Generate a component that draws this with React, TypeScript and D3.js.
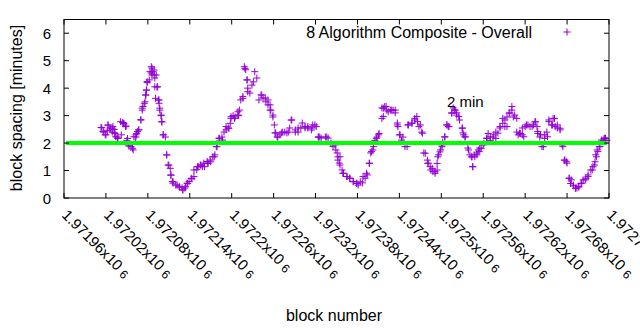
import React from 'react';
import * as d3 from 'd3';

// ---- data ----
const FIRST_BLOCK = 1971960;
const X_TICKS = [1971960, 1972020, 1972080, 1972140, 1972200, 1972260, 1972320, 1972380, 1972440, 1972500, 1972560, 1972620, 1972680, 1972740];
const X_TICK_LABELS = ['1.97196', '1.97202', '1.97208', '1.97214', '1.9722', '1.97226', '1.97232', '1.97238', '1.97244', '1.9725', '1.97256', '1.97262', '1.97268', '1.97274'];
const Y_TICKS = [0, 1, 2, 3, 4, 5, 6];
const TARGET_SPACING = 2;
const SERIES_NAME = '8 Algorithm Composite - Overall';
const TARGET_LABEL = '2 min';

// block number offsets from FIRST_BLOCK
const blockOffsets = [
  54, 57, 59, 62, 63, 66, 69, 70, 72, 73, 76, 77, 82, 84, 86, 89, 90, 92, 96, 99, 102, 103, 104, 107, 110, 112, 113, 116, 117, 118, 119, 122, 125, 126, 127, 129, 130, 133, 135, 136, 137, 139, 140, 142, 145, 147, 149, 152, 153, 155, 156, 162, 165, 169, 170, 173, 176, 179, 183, 186, 190, 192, 195, 198, 200, 205, 206, 209, 213, 216, 218, 219, 222, 226, 229, 232, 235, 238, 239, 242, 245, 249, 250, 253, 256, 258, 260, 262, 263, 266, 269, 271, 273, 276, 279, 283, 285, 289, 292, 295, 299, 301, 302, 305, 309, 313, 319, 323, 326, 331, 335, 341, 345, 349, 355, 356, 361, 364, 366, 376, 385, 391, 392, 395, 398, 399, 405, 409, 414, 419, 421, 427, 431, 434, 437, 439, 442, 445, 448, 451, 455, 457, 459, 462, 467, 471, 474, 477, 478, 481, 485, 491, 492, 498, 502, 505, 508, 512, 515, 520, 521, 524, 528, 531, 534, 535, 538, 541, 542, 545, 548, 550, 555, 557, 560, 562, 565, 570, 571, 574, 578, 581, 584, 585, 587, 591, 593, 595, 600, 605, 607, 610, 614, 618, 624, 628, 631, 634, 638, 641, 643, 648, 650, 653, 656, 660, 664, 670, 674, 677, 678, 681, 684, 688, 691, 694, 698, 700, 703, 706, 710, 714, 717, 720, 723, 726, 729, 734, 737, 741, 746, 750, 756, 759, 761, 763, 766, 770, 772, 774, 777,
  53, 56, 60, 63, 66, 69, 72, 74, 77, 81, 85, 88, 91, 93, 98, 100, 103, 105, 107, 110, 112, 115, 117, 118, 119, 123, 125, 126, 129, 130, 131,
  132, 134, 136, 137, 139, 140, 142, 147, 150, 153, 156, 160, 165, 170, 174, 177, 182, 186, 191, 196, 201, 206, 210, 215, 219, 222, 227, 232, 236, 239, 244, 249, 251, 256, 259, 262, 263,
  282, 288, 292, 295, 296, 299, 303, 306, 311, 316, 321, 325, 331, 335, 339, 345, 349, 354, 359, 364, 368, 374, 378, 382, 388, 389, 392, 394,
  395, 400, 405, 409, 414, 419, 424, 428, 433, 437, 440, 443, 447, 450, 455, 457, 461, 464, 469, 474, 477, 480, 483, 488, 493, 498, 502, 506, 510, 513, 517, 521, 525,
  527, 531, 534, 536, 539, 541, 545, 548, 551, 555, 559, 562, 566, 570, 572, 574, 579, 583, 585, 588, 591, 594, 597, 601, 605, 610, 615, 618, 621, 624, 628, 631, 634, 637, 641, 645, 648, 652, 656,
  658, 662, 667, 672, 675, 678, 682, 686, 688, 692, 694, 699, 702, 706, 710, 713, 716, 719, 723, 725, 729, 732, 736, 740, 743, 747, 750, 754, 757, 760, 762, 764, 767, 769, 773, 775,
];

// block spacing in minutes
const spacingMinutes = [
  2.56, 2.40, 2.30, 2.45, 2.65, 2.55, 2.40, 2.60, 2.50, 2.35, 2.22, 2.18, 2.30, 2.75, 2.70, 2.62, 2.10, 1.93, 1.87, 1.75, 2.05, 2.22, 2.35, 2.48, 2.85, 3.20, 3.33, 3.50, 3.75, 3.93, 4.20, 4.30, 4.55, 4.73, 4.60, 4.48, 4.37, 4.04, 3.57, 3.45, 3.20, 3.00, 2.77, 2.30, 2.22, 1.57, 1.20, 1.08, 0.83, 0.60, 0.54, 0.47, 0.40, 0.37, 0.30, 0.36, 0.54, 0.60, 0.70, 0.78, 1.03, 1.14, 1.20, 1.14, 1.27, 1.33, 1.27, 1.38, 1.50, 1.57, 1.87, 2.00, 2.18, 2.22, 2.40, 2.60, 2.55, 2.72, 2.90, 3.00, 2.95, 3.14, 3.00, 3.57, 3.70, 4.78, 4.67, 4.30, 4.00, 3.82, 4.11, 4.23, 4.60, 4.37, 3.57, 3.75, 3.64, 3.50, 3.39, 3.20, 2.95, 2.66, 2.37, 2.22, 2.30, 2.40, 2.37, 2.55, 2.84, 2.40, 2.55, 2.73, 2.60, 2.55, 2.55, 2.66, 2.60, 2.22, 2.22, 2.22, 1.87, 1.64, 1.38, 1.20, 1.02, 0.90, 0.78, 0.72, 0.60, 0.54, 0.47, 0.55, 0.72, 0.84, 1.27, 1.64, 1.75, 2.10, 2.22, 2.35, 3.28, 2.97, 3.33, 3.20, 3.20, 3.20, 3.10, 2.73, 2.60, 2.30, 2.22, 1.87, 2.66, 2.73, 2.84, 2.97, 2.60, 2.40, 1.64, 1.38, 1.27, 1.14, 0.96, 0.90, 1.02, 1.50, 1.68, 1.87, 2.04, 2.22, 2.66, 2.60, 3.10, 3.28, 3.20, 3.10, 2.97, 2.55, 2.37, 2.22, 1.82, 1.57, 1.50, 1.14, 1.57, 1.64, 1.75, 1.82, 1.93, 2.18, 2.35, 2.10, 2.22, 2.40, 2.55, 2.90, 2.60, 2.95, 3.10, 3.33, 2.95, 2.40, 2.30, 2.35, 2.55, 2.60, 2.66, 2.60, 2.77, 2.60, 2.35, 2.22, 1.87, 2.30, 2.40, 2.84, 2.66, 2.90, 2.60, 2.55, 2.48, 1.87, 1.38, 1.27, 0.72, 0.66, 0.47, 0.36, 0.40, 0.54, 0.66, 0.78, 1.02, 1.20, 1.57, 1.75, 1.87, 2.04, 2.10, 2.18, 2.10,
  2.57, 2.42, 2.30, 2.66, 2.48, 2.54, 2.38, 2.23, 2.17, 2.78, 2.72, 2.60, 2.17, 1.89, 1.81, 2.23, 2.30, 2.42, 2.48, 2.84, 3.27, 3.45, 3.75, 3.93, 4.24, 4.60, 4.78, 4.48, 4.66, 4.05, 3.63,
  4.48, 4.05, 3.57, 3.27, 3.02, 2.78, 2.30, 1.57, 1.20, 0.84, 0.59, 0.47, 0.41, 0.29, 0.41, 0.53, 0.72, 1.02, 1.14, 1.20, 1.14, 1.26, 1.32, 1.50, 1.87, 2.17, 2.11, 2.48, 2.54, 2.96, 2.90, 3.02, 3.20, 3.63, 4.72, 4.30, 3.87,
  3.75, 3.64, 3.57, 3.39, 3.20, 3.02, 2.37, 2.22, 2.37, 2.40, 2.40, 2.84, 2.48, 2.40, 2.55, 2.55, 2.60, 2.48, 2.66, 2.22, 2.18, 2.22, 2.18, 2.00, 1.93, 1.75, 1.50, 1.27,
  1.50, 0.90, 0.78, 0.72, 0.59, 0.53, 0.59, 0.78, 0.90, 1.26, 1.69, 1.87, 2.17, 2.30, 2.90, 3.27, 3.33, 3.14, 3.20, 3.20, 2.66, 2.30, 2.11, 1.87, 2.66, 2.72, 2.90, 2.78, 2.66, 2.36, 1.63, 1.26, 1.02,
  1.08, 0.96, 1.26, 1.57, 1.75, 1.93, 2.23, 2.66, 2.60, 3.09, 3.20, 3.02, 2.84, 2.54, 2.30, 2.23, 1.75, 1.50, 1.14, 1.50, 1.57, 1.69, 1.81, 1.99, 2.17, 2.23, 2.30, 2.17, 2.36, 2.60, 2.72, 2.84, 2.60, 3.09, 3.20, 3.02, 2.90, 2.36, 2.30,
  2.23, 2.66, 2.60, 2.66, 2.78, 2.42, 2.30, 1.87, 2.17, 2.23, 2.78, 2.66, 2.90, 2.66, 2.54, 1.93, 1.38, 1.32, 0.72, 0.53, 0.44, 0.35, 0.41, 0.53, 0.66, 0.72, 0.84, 1.02, 1.14, 1.32, 1.50, 1.69, 1.87, 2.11, 2.17, 2.17,
];

const LABEL_POS = { block: 1972508, value: 3.31 };

// ---- layout ----
const W = 640;
const H = 330;
const M = { left: 64, right: 609, top: 19.5, bottom: 198 };
const FONT = "'Liberation Sans', Arial, sans-serif";
const PURPLE = '#9400d3';
const GREEN = '#00ff00';

export default function App() {
  const x = d3.scaleLinear().domain([X_TICKS[0], X_TICKS[X_TICKS.length - 1]]).range([M.left, M.right]);
  const y = d3.scaleLinear().domain([0, 6.5]).range([M.bottom, M.top]);
  const points = blockOffsets.map((o, i) => ({ block: FIRST_BLOCK + o, v: spacingMinutes[i] }));
  const s = 3.5;
  const plus = (cx: number, cy: number) => `M${cx - s},${cy}H${cx + s}M${cx},${cy - s}V${cy + s}`;
  const pathD = points.map((p) => plus(x(p.block), y(p.v))).join('');
  const tickLen = 5;

  return (
    <svg width={W} height={H} style={{ position: 'absolute', left: 0, top: 0, background: '#fff' }} fontFamily={FONT}>
      <rect x={0} y={0} width={W} height={H} fill="#fff" />
      {/* points */}
      <path d={pathD} stroke={PURPLE} strokeWidth={1} fill="none" />
      {/* 2 min line */}
      <line x1={x(X_TICKS[0]) + 2} x2={x(X_TICKS[X_TICKS.length - 1]) - 2} y1={y(TARGET_SPACING)} y2={y(TARGET_SPACING)} stroke={GREEN} strokeWidth={4} />
      {/* frame */}
      <rect x={M.left} y={M.top} width={M.right - M.left} height={M.bottom - M.top} fill="none" stroke="#000" strokeWidth={1} />
      {/* y ticks */}
      {Y_TICKS.map((t) => (
        <g key={'y' + t}>
          <line x1={M.left} x2={M.left + tickLen} y1={y(t)} y2={y(t)} stroke="#000" />
          <line x1={M.right} x2={M.right - tickLen} y1={y(t)} y2={y(t)} stroke="#000" />
          <text x={51} y={y(t) + 5.5} textAnchor="end" fontSize={15} fill="#000">{t}</text>
        </g>
      ))}
      {/* x ticks */}
      {X_TICKS.map((t, i) => (
        <g key={'x' + t}>
          <line x1={x(t)} x2={x(t)} y1={M.bottom} y2={M.bottom - tickLen} stroke="#000" />
          <line x1={x(t)} x2={x(t)} y1={M.top} y2={M.top + tickLen} stroke="#000" />
          <text transform={`translate(${x(t) - 3},${216}) rotate(45)`} fontSize={15} fill="#000">
            {X_TICK_LABELS[i] + 'x10'}
            <tspan fontSize={12} dx={4} dy={1}>6</tspan>
          </text>
        </g>
      ))}
      {/* axis titles */}
      <text transform={`translate(22,108) rotate(-90)`} textAnchor="middle" fontSize={16} fill="#000">block spacing [minutes]</text>
      <text x={334} y={321} textAnchor="middle" fontSize={16} fill="#000">block number</text>
      {/* legend */}
      <text x={532} y={38} textAnchor="end" fontSize={16} fill="#000">{SERIES_NAME}</text>
      <path d={`M563.5,32H570.5M567,28.5V35.5`} stroke={PURPLE} strokeWidth={1} />
      {/* label */}
      <text x={x(LABEL_POS.block)} y={y(LABEL_POS.value)} fontSize={15} fill="#000">{TARGET_LABEL}</text>
    </svg>
  );
}
